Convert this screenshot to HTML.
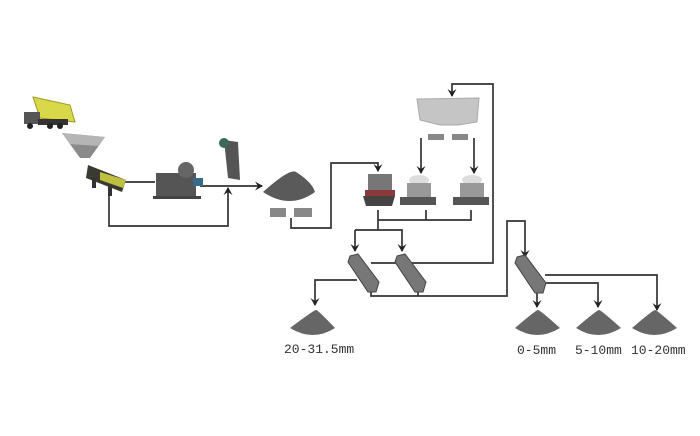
<!DOCTYPE html>
<html><head><meta charset="utf-8"><style>
html,body{margin:0;padding:0;background:#fff;width:700px;height:436px;overflow:hidden}
text{font-family:"Liberation Mono","Noto Sans CJK SC",monospace;font-size:13px;fill:#333}
</style></head><body>
<svg width="700" height="436" viewBox="0 0 700 436" xmlns="http://www.w3.org/2000/svg">
<defs>
<marker id="a" markerWidth="9" markerHeight="9" refX="7" refY="4.5" orient="auto" markerUnits="userSpaceOnUse" viewBox="0 0 9 9"><path d="M0,0 L8,4.5 L0,9 L3,4.5 Z" fill="#222"/></marker>
</defs>
<g fill="none" stroke="#333" stroke-width="1.7">
<path d="M125,182 H155"/>
<path d="M200,186 H262" marker-end="url(#a)"/>
<path d="M109,190 V226 H228 V188" marker-end="url(#a)"/>
<path d="M291,218 V228 H331 V163 H378 V171" marker-end="url(#a)"/>
<path d="M371,263 H493 V84 H452 V96" marker-end="url(#a)"/>
<path d="M421,138 V173" marker-end="url(#a)"/>
<path d="M474,138 V173" marker-end="url(#a)"/>
<path d="M378,210 V230"/>
<path d="M378,220 H471 V210 M426,220 V210"/>
<path d="M355,230 V251" marker-end="url(#a)"/>
<path d="M355,230 H402 V251" marker-end="url(#a)"/>
<path d="M357,280 H315 V305" marker-end="url(#a)"/>
<path d="M371,290 V296 H507 V221 H525 V257" marker-end="url(#a)"/>
<path d="M418,290 V296"/>
<path d="M545,275 H657 V310" marker-end="url(#a)"/>
<path d="M545,283 H598 V307" marker-end="url(#a)"/>
<path d="M537,290 V307" marker-end="url(#a)"/>
</g>
<!-- truck -->
<polygon points="33,97 70,105 75,122 40,118" fill="#d8d84a" stroke="#9a9a20"/>
<rect x="24" y="112" width="16" height="12" fill="#555"/>
<rect x="38" y="119" width="30" height="6" fill="#333"/>
<circle cx="30" cy="126" r="3" fill="#222"/><circle cx="50" cy="126" r="3" fill="#222"/><circle cx="60" cy="126" r="3" fill="#222"/>
<!-- hopper -->
<polygon points="62,133 105,137 90,158 80,158" fill="#8a8a8a"/>
<polygon points="62,133 105,137 98,146 70,144" fill="#b5b5b5"/>
<!-- feeder -->
<polygon points="88,165 126,180 122,192 86,178" fill="#3a3a30"/>
<polygon points="100,172 126,180 123,188 100,180" fill="#c0c040"/>
<rect x="92" y="178" width="4" height="10" fill="#333"/><rect x="108" y="186" width="4" height="10" fill="#333"/>
<!-- jaw crusher -->
<rect x="156" y="173" width="40" height="26" fill="#555"/>
<circle cx="186" cy="170" r="8" fill="#666"/>
<rect x="193" y="178" width="10" height="8" fill="#3a6a8a"/>
<rect x="153" y="196" width="48" height="3" fill="#444"/>
<!-- impact crusher -->
<polygon points="224,140 238,142 240,180 228,178" fill="#555"/>
<circle cx="224" cy="143" r="5" fill="#3a6a5a"/>
<!-- pile -->
<path d="M263,192 Q290,168 296,172 Q312,182 315,192 Q290,210 263,192 Z" fill="#5a5a5a"/>
<rect x="270" y="208" width="16" height="9" fill="#888"/><rect x="294" y="208" width="18" height="9" fill="#888"/>
<!-- cone crusher 1 -->
<rect x="368" y="174" width="24" height="16" fill="#777"/>
<rect x="365" y="190" width="30" height="6" fill="#8a3a3a"/>
<polygon points="363,196 395,196 392,206 366,206" fill="#444"/>
<!-- cones 2,3 -->
<g><ellipse cx="419" cy="180" rx="10" ry="5" fill="#ddd"/><rect x="407" y="183" width="24" height="14" fill="#999"/><rect x="400" y="197" width="36" height="8" fill="#555"/>
<ellipse cx="472" cy="180" rx="10" ry="5" fill="#ddd"/><rect x="460" y="183" width="24" height="14" fill="#999"/><rect x="453" y="197" width="36" height="8" fill="#555"/></g>
<!-- bin -->
<polygon points="417,99 479,98 477,122 458,125 440,125 420,120" fill="#c5c5c5" stroke="#aaa"/>
<rect x="428" y="134" width="16" height="6" fill="#888"/><rect x="452" y="134" width="16" height="6" fill="#888"/>
<!-- screens -->
<g fill="#777" stroke="#444">
<polygon points="350,256 358,254 379,282 376,292 368,292 348,262"/>
<polygon points="397,256 405,254 426,282 423,292 415,292 395,262"/>
<polygon points="517,257 525,255 546,283 543,293 535,293 515,263"/>
</g>
<!-- piles -->
<g fill="#666">
<path d="M290,328 Q314,310 316,310 Q318,310 335,328 Q313,342 290,328Z"/>
<path d="M515,328 Q536,310 538,310 Q540,310 560,328 Q537,342 515,328Z"/>
<path d="M576,328 Q597,310 599,310 Q601,310 621,328 Q598,342 576,328Z"/>
<path d="M632,328 Q653,310 655,310 Q657,310 677,328 Q654,342 632,328Z"/>
</g>
<text x="284" y="353">20-31.5mm</text>
<text x="517" y="354">0-5mm</text>
<text x="575" y="354">5-10mm</text>
<text x="631" y="354">10-20mm</text>
</svg>
</body></html>
